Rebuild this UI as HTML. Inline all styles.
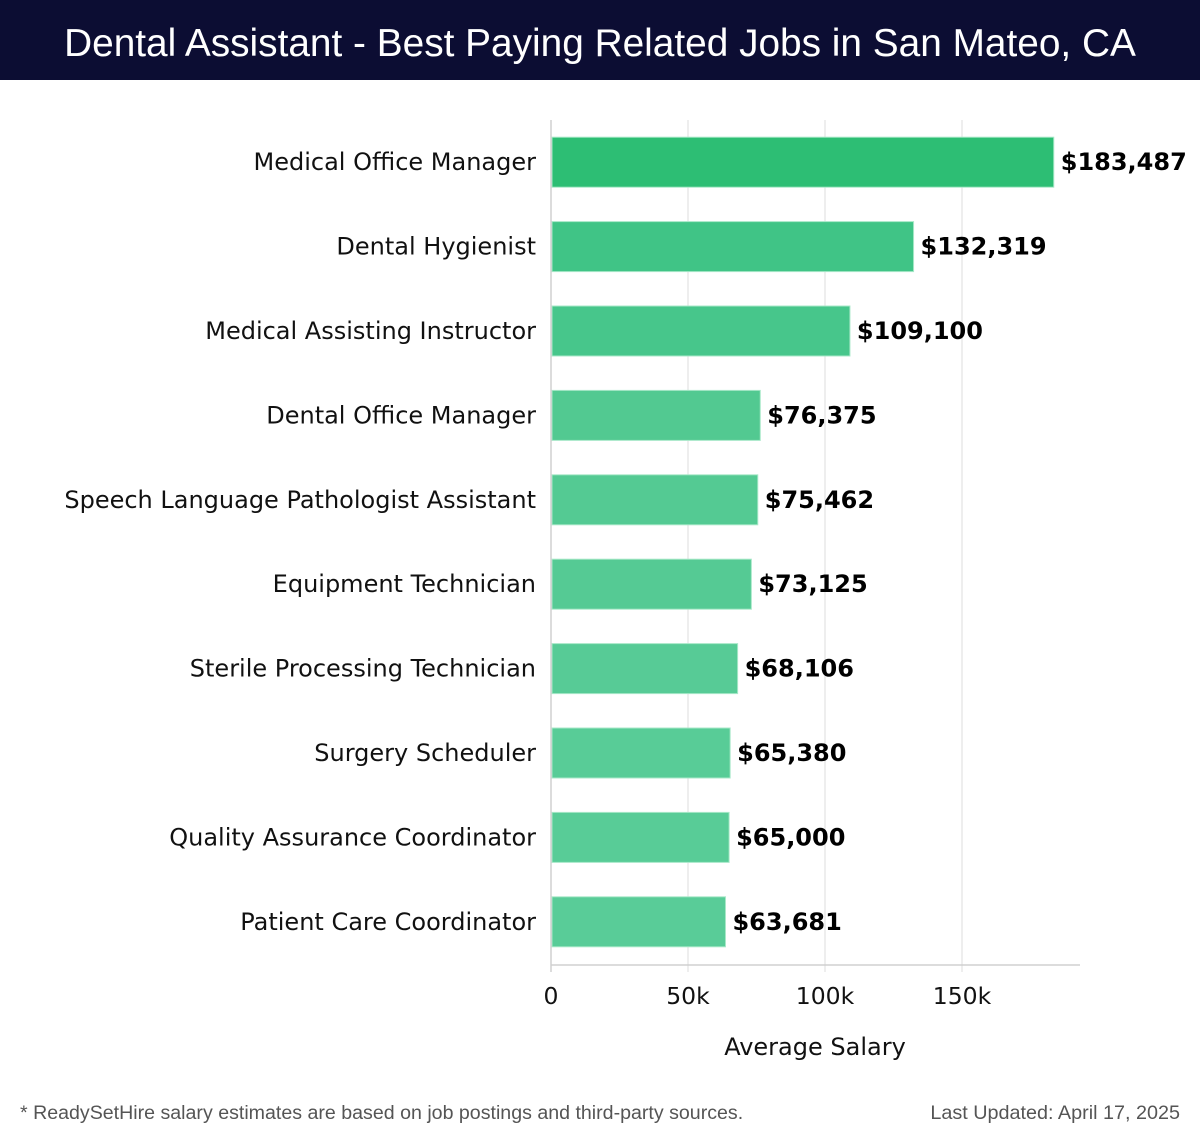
<!DOCTYPE html>
<html><head><meta charset="utf-8"><style>
body{margin:0;width:1200px;height:1140px;background:#fff;font-family:"DejaVu Sans","Liberation Sans",sans-serif;overflow:hidden}
#hdr{position:absolute;left:0;top:0;width:1200px;height:80px;background:#0c0d33;color:#fff;font-size:38.8px;text-align:center;line-height:88px;font-family:"Liberation Sans",sans-serif;white-space:nowrap}
</style></head><body>
<div id="hdr">Dental Assistant - Best Paying Related Jobs in San Mateo, CA</div>
<svg id="chart" width="1200" height="1140" style="position:absolute;left:0;top:0"></svg>
<script>
const categories=["Medical Office Manager","Dental Hygienist","Medical Assisting Instructor","Dental Office Manager","Speech Language Pathologist Assistant","Equipment Technician","Sterile Processing Technician","Surgery Scheduler","Quality Assurance Coordinator","Patient Care Coordinator"];
const salaries=[183487,132319,109100,76375,75462,73125,68106,65380,65000,63681];
const labels=["$183,487","$132,319","$109,100","$76,375","$75,462","$73,125","$68,106","$65,380","$65,000","$63,681"];
const ticks=[0,50000,100000,150000];
const tickLabels=["0","50k","100k","150k"];
const colors=["#2dbe74","#40c486","#47c68b","#52c991","#54ca93","#55ca94","#57cb96","#58cc97","#58cc97","#59cc98"];
const svg=document.getElementById('chart');const NS="http://www.w3.org/2000/svg";
const x0=551,pxPerUnit=137/50000,top0=120,rowH=84.4,barH=50,axisY=965;
const X=v=>x0+v*pxPerUnit;const Yc=i=>top0+rowH*(i+0.5);
function mk(t,a,txt){const e=document.createElementNS(NS,t);for(const k in a)e.setAttribute(k,a[k]);if(txt!==undefined)e.textContent=txt;svg.appendChild(e);return e;}
ticks.forEach((t,i)=>{
 const g=mk('line',{x1:X(t),x2:X(t),y1:top0,y2:axisY+7,stroke:'#dcdcdc','stroke-width':1});
 
 
 const l=mk('text',{x:X(t),y:1004,'text-anchor':'middle','font-size':23.5,fill:'#111'},tickLabels[i]);
 
 
});
const ax=mk('line',{x1:x0,x2:1080,y1:axisY,y2:axisY,stroke:'#d0d0d0','stroke-width':1.5});


categories.forEach((c,i)=>{
 const y=Yc(i);
 const b=mk('rect',{x:x0+1,y:y-barH/2,width:X(salaries[i])-x0-1,height:barH,fill:colors[i],stroke:'#a8e8c8','stroke-width':1});
 
 
 const t=mk('text',{x:536,y:y+8,'text-anchor':'end','font-size':24,fill:'#111'},c);
 
 
 const v=mk('text',{x:X(salaries[i])+7,y:y+8,'font-size':24,'font-weight':'bold',fill:'#000'},labels[i]);
 
 
});
const yl=mk('line',{x1:x0,x2:x0,y1:top0,y2:axisY+7,stroke:'#d0d0d0','stroke-width':1.5});


const at=mk('text',{x:815,y:1055,'text-anchor':'middle','font-size':24,fill:'#111'},"Average Salary");


const f1=mk('text',{x:20,y:1119,'font-size':19.6,fill:'#555','font-family':'Liberation Sans, sans-serif'},"* ReadySetHire salary estimates are based on job postings and third-party sources.");


const f2=mk('text',{x:1180,y:1119,'text-anchor':'end','font-size':19.8,fill:'#555','font-family':'Liberation Sans, sans-serif'},"Last Updated: April 17, 2025");


</script>
</body></html>
